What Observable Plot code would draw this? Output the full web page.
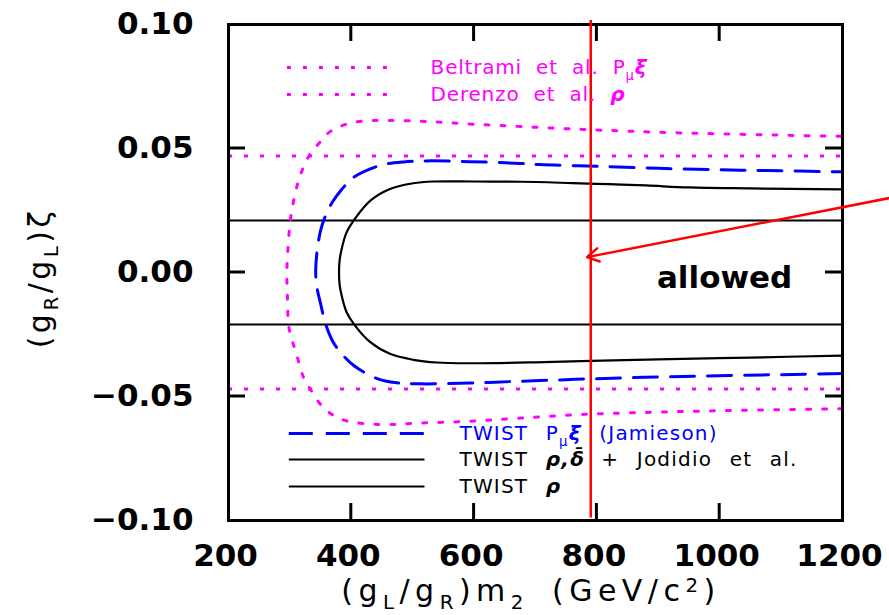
<!DOCTYPE html>
<html><head><meta charset="utf-8">
<script src="https://cdn.jsdelivr.net/npm/d3@7"></script>
<script src="https://cdn.jsdelivr.net/npm/@observablehq/plot@0.6"></script>
<style>
body{margin:0;background:#fff;}
#chart svg{overflow:visible;}
</style>
</head><body><div id="chart"></div>
<script>
// ---- axes ----
const xTicks = [200, 400, 600, 800, 1000, 1200];
const yTicks = [-0.10, -0.05, 0.00, 0.05, 0.10];

// ---- TWIST rho,delta + Jodidio et al. (solid black curve) ----
const blackUpperX = [380, 381, 385, 392, 404, 431, 463, 501, 533, 600, 675, 720, 760, 820, 880, 950, 1050, 1200];
const blackUpperY = [0.0, 0.005, 0.0102, 0.016, 0.021, 0.029, 0.0337, 0.036, 0.0367, 0.0367, 0.0366, 0.0364, 0.0360, 0.0356, 0.0351, 0.0343, 0.0339, 0.0335];
const blackLowerX = [381, 385, 392, 404, 431, 463, 501, 539, 593, 700, 790, 900, 1050, 1200];
const blackLowerY = [-0.005, -0.0100, -0.0158, -0.0207, -0.0281, -0.0328, -0.0352, -0.0363, -0.0366, -0.0362, -0.0356, -0.0350, -0.0343, -0.0335];

// ---- TWIST P_mu xi (Jamieson) (blue dashed curve) ----
const blueUpperX = [342, 344, 350, 357, 369, 385, 404, 431, 458, 485, 523, 593, 675, 707, 800, 900, 1000, 1075, 1200];
const blueUpperY = [0.0, 0.008, 0.017, 0.0223, 0.0283, 0.0337, 0.0384, 0.0418, 0.0438, 0.0446, 0.045, 0.0447, 0.044, 0.0435, 0.0428, 0.042, 0.0414, 0.0411, 0.0406];
const blueLowerX = [344, 350, 358, 369, 382, 404, 442, 474, 512, 593, 658, 740, 800, 940, 1120, 1200];
const blueLowerY = [-0.006, -0.0126, -0.0207, -0.0274, -0.0321, -0.0375, -0.0428, -0.0445, -0.0449, -0.0446, -0.0440, -0.0433, -0.0428, -0.0419, -0.0411, -0.0407];

// ---- Beltrami et al. P_mu xi (magenta dotted curve) ----
const beltUpperX = [295, 297, 301, 307, 314, 322, 333, 347, 363, 385, 412, 463, 530, 600, 680, 777, 935, 1200];
const beltUpperY = [0.0, 0.01, 0.0216, 0.030, 0.037, 0.0424, 0.0478, 0.052, 0.0563, 0.0592, 0.0609, 0.0613, 0.0608, 0.0598, 0.0588, 0.0577, 0.0563, 0.0549];
const beltLowerX = [296, 298, 303, 309, 322, 333, 347, 363, 382, 409, 458, 512, 593, 675, 780, 950, 1200];
const beltLowerY = [-0.01, -0.0214, -0.027, -0.0314, -0.0422, -0.0469, -0.0523, -0.0563, -0.059, -0.0606, -0.0613, -0.0607, -0.060, -0.0587, -0.0572, -0.056, -0.0549];

// ---- horizontal bands ----
const derenzoY = [0.047, -0.047];   // Derenzo et al. rho (magenta dotted)
const twistRhoY = [0.021, -0.021];  // TWIST rho (solid black)

// ---- annotations ----
const redLineX = [790];
const redLineY = [-0.099, 0.1016];
const arrowFrom = [1280, 0.0302];
const arrowTo = [784, 0.0062];
const allowedText = [{x: 1008, y: -0.0022, label: "allowed"}];

// ---- legend (data-space layout) ----
const legendTop = [
  {y: 0.0827, x1: 296, x2: 460, tx: 530, parts: [{t: "Beltrami et al. P"}, {t: "μ", sub: true}, {t: "ξ", it: true}]},
  {y: 0.0718, x1: 296, x2: 460, tx: 530, parts: [{t: "Derenzo et al. "}, {t: "ρ", it: true}]}
];
const legendBottom = [
  {y: -0.0649, x1: 299, x2: 520, tx: 577, color: "#0000ff", dash: "24,13", parts: [{t: "TWIST P"}, {t: "μ", sub: true}, {t: "ξ", it: true}, {t: " (Jamieson)"}]},
  {y: -0.0754, x1: 299, x2: 520, tx: 577, color: "#000", dash: null, parts: [{t: "TWIST "}, {t: "ρ,δ̄", it: true}]},
  {y: -0.0863, x1: 299, x2: 520, tx: 577, color: "#000", dash: null, parts: [{t: "TWIST "}, {t: "ρ", it: true}]}
];
const legendExtra = {x: 808, y: -0.0754, text: "+ Jodidio et al."};

function curve(ux, uy, lx, ly) {
  const lower = lx.map((x, i) => ({x, y: ly[i]})).reverse();
  const upper = ux.map((x, i) => ({x, y: uy[i]}));
  return lower.concat(upper);
}
const blackPts = curve(blackUpperX, blackUpperY, blackLowerX, blackLowerY);
const bluePts = curve(blueUpperX, blueUpperY, blueLowerX, blueLowerY);
const beltPts = curve(beltUpperX, beltUpperY, beltLowerX, beltLowerY);

const MAG = "#ff00ff", BLUE = "#0000ff", RED = "#ff0000";
const yFmt = d => d === 0 ? "0.00" : (d < 0 ? "\u2212" : "") + Math.abs(d).toFixed(2);

const W = 889, H = 615, ML = 228, MR = 47, MT = 24, MB = 95, TICK = 17;
const xDom = [200, 1200], yDom = [-0.10, 0.10];
const xInner = xTicks.slice(1, -1), yInner = yTicks.slice(1, -1);

const plot = Plot.plot({
  width: W, height: H,
  marginLeft: ML, marginRight: MR, marginTop: MT, marginBottom: MB,
  style: {fontFamily: "DejaVu Sans", background: "white", overflow: "visible"},
  x: {domain: xDom, label: null},
  y: {domain: yDom, label: null},
  marks: [
    Plot.ruleY(twistRhoY, {y: d => d, stroke: "#000", strokeWidth: 2}),
    Plot.ruleY(derenzoY, {y: d => d, stroke: MAG, strokeWidth: 3, strokeDasharray: "4,12"}),
    Plot.line(beltPts, {x: "x", y: "y", stroke: MAG, strokeWidth: 3, strokeDasharray: "4,12", curve: "catmull-rom"}),
    Plot.line(bluePts, {x: "x", y: "y", stroke: BLUE, strokeWidth: 3, strokeDasharray: "24,13", curve: "catmull-rom"}),
    Plot.line(blackPts, {x: "x", y: "y", stroke: "#000", strokeWidth: 2.2, curve: "catmull-rom"}),
    // legend samples
    ...legendTop.map(r => Plot.ruleY([r], {y: "y", x1: "x1", x2: "x2", stroke: MAG, strokeWidth: 3, strokeDasharray: "4,12"})),
    ...legendBottom.map(r => Plot.ruleY([r], {y: "y", x1: "x1", x2: "x2", stroke: r.color, strokeWidth: r.dash ? 3 : 2, strokeDasharray: r.dash})),
    Plot.text(allowedText, {x: "x", y: "y", text: "label", fontSize: 31, fontWeight: "bold", fill: "#000", letterSpacing: 1}),
    // tick labels
    Plot.axisX({anchor: "bottom", ticks: xTicks, tickSize: 0, tickPadding: 23, fontSize: 31, fontWeight: "bold", dx: -3, label: null, tickFormat: d => String(d)}),
    Plot.axisY({anchor: "left", ticks: yTicks, tickSize: 0, tickPadding: 35, fontSize: 31, fontWeight: "bold", tickFormat: yFmt, label: null}),
    Plot.frame({stroke: "#000", strokeWidth: 3}),
    // red annotations
    Plot.ruleX(redLineX, {x: d => d, y1: redLineY[0], y2: redLineY[1], stroke: RED, strokeWidth: 2.5, clip: false}),
    Plot.arrow([{x1: arrowFrom[0], y1: arrowFrom[1], x2: arrowTo[0], y2: arrowTo[1]}], {x1: "x1", y1: "y1", x2: "x2", y2: "y2", stroke: RED, strokeWidth: 2.5, headLength: 8, headAngle: 60, clip: false})
  ]
});

document.getElementById("chart").appendChild(plot);

const sx = plot.scale("x"), sy = plot.scale("y");
const svg = d3.select(plot);

// inward tick marks on all four sides, placed through the plot's scales
const tg = svg.append("g").attr("stroke", "#000").attr("stroke-width", 3);
const yb = sy.apply(yDom[0]), yt = sy.apply(yDom[1]);
const xl = sx.apply(xDom[0]), xr = sx.apply(xDom[1]);
for (const v of xInner) {
  const px = sx.apply(v);
  tg.append("line").attr("x1", px).attr("x2", px).attr("y1", yb).attr("y2", yb - TICK);
  tg.append("line").attr("x1", px).attr("x2", px).attr("y1", yt).attr("y2", yt + TICK);
}
for (const v of yInner) {
  const py = sy.apply(v);
  tg.append("line").attr("y1", py).attr("y2", py).attr("x1", xl).attr("x2", xl + TICK);
  tg.append("line").attr("y1", py).attr("y2", py).attr("x1", xr).attr("x2", xr - TICK);
}

function rich(x, y, parts, opts) {
  const t = svg.append("text").attr("x", x).attr("y", y)
    .attr("font-family", "DejaVu Sans")
    .attr("font-size", opts.size)
    .attr("fill", opts.fill || "#000")
    .attr("text-anchor", opts.anchor || "start")
    .style("word-spacing", (opts.wordSpacing || 0) + "px")
    .style("letter-spacing", (opts.letterSpacing || 0) + "px");
  if (opts.transform) t.attr("transform", opts.transform);
  if (opts.weight) t.attr("font-weight", opts.weight);
  let shift = 0;
  const subDrop = opts.size * 0.28, supRise = -opts.size * 0.3;
  for (const p of parts) {
    const ts = t.append("tspan").text(p.t);
    let target = p.sub ? subDrop : p.sup ? supRise : 0;
    if (target !== shift) { ts.attr("dy", target - shift); shift = target; }
    if (p.sub || p.sup) ts.attr("font-size", opts.size * 0.66);
    if (p.it) ts.attr("font-style", "italic").attr("font-weight", "bold");
  }
  return t;
}

// legend texts
for (const r of legendTop) {
  rich(sx.apply(r.tx), sy.apply(r.y) + 7, r.parts, {size: 20, fill: MAG, wordSpacing: 7, letterSpacing: 0.8});
}
for (const r of legendBottom) {
  rich(sx.apply(r.tx), sy.apply(r.y) + 7, r.parts, {size: 20, fill: r.color, wordSpacing: 10, letterSpacing: 1.2});
}
rich(sx.apply(legendExtra.x), sy.apply(legendExtra.y) + 7, [{t: legendExtra.text}], {size: 20, wordSpacing: 10, letterSpacing: 1.2});

// axis titles
const xMid = (xl + xr) / 2 - 4;
rich(xMid, 601, [{t: "(g"}, {t: "L", sub: true}, {t: "/g"}, {t: "R", sub: true}, {t: ")m"}, {t: "2", sub: true}, {t: " (GeV/c"}, {t: "2", sup: true}, {t: ")"}],
  {size: 30, anchor: "middle", letterSpacing: 5.5, wordSpacing: 8});
const yMid = (yb + yt) / 2 + 6;
rich(0, 0, [{t: "(g"}, {t: "R", sub: true}, {t: "/g"}, {t: "L", sub: true}, {t: ")ζ"}],
  {size: 30, anchor: "middle", letterSpacing: 3.5, transform: `translate(50,${yMid}) rotate(-90)`});
</script>
</body></html>
